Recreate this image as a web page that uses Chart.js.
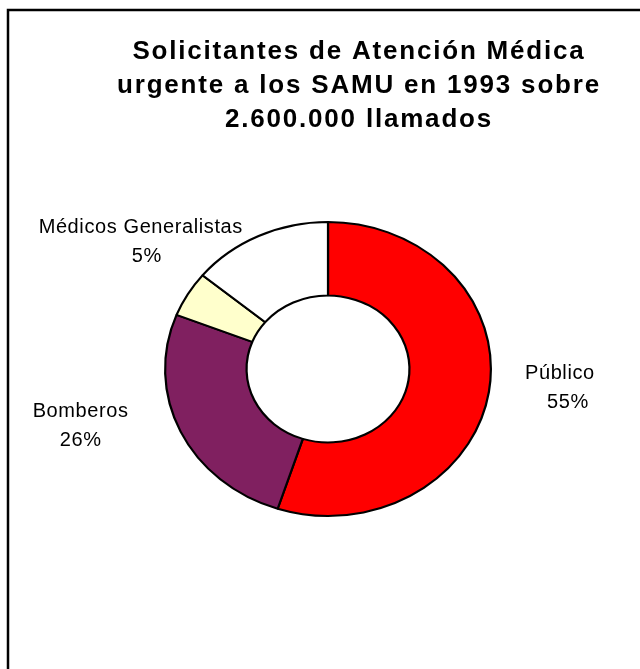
<!DOCTYPE html>
<html>
<head>
<meta charset="utf-8">
<style>
  html, body { margin: 0; padding: 0; background: #fff; }
  canvas { display: block; }
</style>
<script src="https://cdn.jsdelivr.net/npm/chart.js@4/dist/chart.umd.min.js"></script>
</head>
<body>
<canvas id="samu" width="640" height="669"></canvas>
<script>
const categories = ['Público', 'Bomberos', 'Médicos Generalistas', 'Otros'];
const shares = [55, 26, 5, 14];
const colors = ['#FF0000', '#802060', '#FFFFCC', '#FFFFFF'];
const titleLines = ['Solicitantes de Atención Médica', 'urgente a los SAMU en 1993 sobre', '2.600.000 llamados'];

// Excel-style stretched ring: circle drawn by Chart.js, widened around its centre
const STRETCH = 164 / 148;

const ellipsePlugin = {
  id: 'ellipse',
  beforeDatasetsDraw(chart) {
    const arc = chart.getDatasetMeta(0).data[0];
    const ctx = chart.ctx;
    ctx.save();
    ctx.translate(arc.x, arc.y);
    ctx.scale(STRETCH, 1);
    ctx.translate(-arc.x, -arc.y);
  },
  afterDatasetsDraw(chart) {
    chart.ctx.restore();
  }
};

const decorPlugin = {
  id: 'decor',
  afterDraw(chart, args, opts) {
    const ctx = chart.ctx;
    ctx.save();

    // frame
    ctx.strokeStyle = '#000';
    ctx.lineWidth = 2.5;
    ctx.beginPath();
    ctx.moveTo(8, 700);
    ctx.lineTo(8, 10);
    ctx.lineTo(700, 10);
    ctx.stroke();

    // title
    ctx.fillStyle = '#000';
    ctx.textAlign = 'center';
    ctx.textBaseline = 'alphabetic';
    ctx.font = 'bold 26px "Liberation Sans", Arial, sans-serif';
    ctx.letterSpacing = '1.8px';
    titleLines.forEach((line, i) => ctx.fillText(line, 359, 59 + i * 34));

    // category labels with percentages
    ctx.font = '20px "Liberation Sans", Arial, sans-serif';
    ctx.letterSpacing = '0.6px';
    ctx.textBaseline = 'middle';
    const meta = chart.getDatasetMeta(0);
    const total = shares.reduce((a, b) => a + b, 0);
    meta.data.forEach((arc, i) => {
      const off = opts.offsets[i];
      if (!off) return;
      const mid = (arc.startAngle + arc.endAngle) / 2;
      const r = arc.outerRadius;
      const x = arc.x + r * STRETCH * Math.cos(mid) + off[0];
      const y = arc.y + r * Math.sin(mid) + off[1];
      const pct = Math.round(shares[i] / total * 100) + '%';
      ctx.fillText(categories[i], x, y - 14);
      ctx.fillText(pct, x + off[2], y + 15);
    });

    ctx.restore();
  }
};

new Chart(document.getElementById('samu'), {
  type: 'doughnut',
  data: {
    labels: categories,
    datasets: [{
      data: shares,
      backgroundColor: colors,
      borderColor: '#000',
      borderWidth: 2,
      clip: false
    }]
  },
  options: {
    responsive: false,
    animation: false,
    cutout: '50%',
    layout: { padding: { top: 221, bottom: 152, left: 180, right: 164 } },
    plugins: {
      legend: { display: false },
      title: { display: false },
      tooltip: { enabled: false },
      decor: { offsets: [[71, -5, 8], [-100, -6, 0], [-47, -53, 6], null] }
    }
  },
  plugins: [ellipsePlugin, decorPlugin]
});
</script>
</body>
</html>
